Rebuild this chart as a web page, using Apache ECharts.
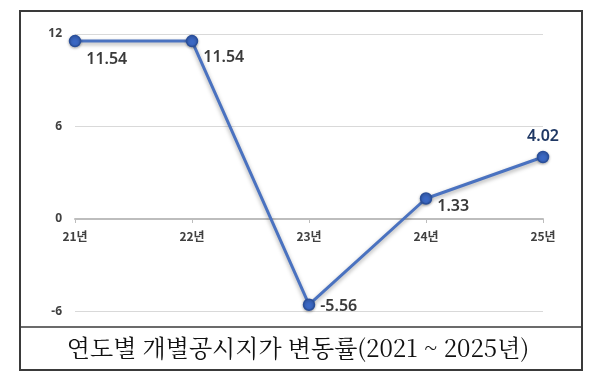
<!DOCTYPE html>
<html><head><meta charset="utf-8">
<script src="https://cdn.jsdelivr.net/npm/echarts@6/dist/echarts.min.js"></script>
<style>html,body{margin:0;padding:0;background:#fff}#c{width:600px;height:384px}</style>
</head><body><div id="c"></div>
<script>
var categories = ['21년', '22년', '23년', '24년', '25년'];
var values = [11.54, 11.54, -5.56, 1.33, 4.02];
var yTicks = [-6, 0, 6, 12];
var captionText = '연도별 개별공시지가 변동률(2021 ~ 2025년)';

var labelCfg = [
  {position: 'right', offset: [0, 18]},
  {position: 'right', offset: [0, 16]},
  {position: 'right', offset: [0, 2]},
  {position: 'right', offset: [0, 8]},
  {position: 'top', distance: 6, color: '#1f3864'}
];
var seriesData = values.map(function (v, i) {
  return {value: v, label: labelCfg[i]};
});

var chart = echarts.init(document.getElementById('c'), null, {renderer: 'canvas'});
chart.setOption({
  animation: false,
  grid: [
    {left: 75, right: 57, top: 34, bottom: 72.5, containLabel: false},
    {left: 75, right: 57, top: 34, bottom: 165, containLabel: false}
  ],
  xAxis: [{
    gridIndex: 0, type: 'category', data: categories, boundaryGap: false,
    axisLine: {show: false}, axisTick: {show: false}, axisLabel: {show: false}
  }, {
    gridIndex: 1, type: 'category', data: categories, boundaryGap: false, position: 'bottom',
    axisLine: {show: true, lineStyle: {color: '#bdbdbd', width: 2}},
    axisTick: {show: true, length: 4, lineStyle: {color: '#bdbdbd', width: 1}},
    axisLabel: {margin: 11, color: '#404040', fontSize: 12, fontWeight: 'bold', fontFamily: 'Noto Sans CJK KR'},
    z: 3
  }],
  yAxis: [{
    gridIndex: 0, type: 'value', min: yTicks[0], max: yTicks[yTicks.length - 1], interval: 6,
    axisLine: {show: false}, axisTick: {show: false},
    axisLabel: {margin: 13, color: '#404040', fontSize: 12, fontWeight: 'bold', fontFamily: 'Noto Sans'},
    splitLine: {lineStyle: {color: '#d9d9d9', width: 1}}
  }, {
    gridIndex: 1, type: 'value', show: false, min: 0, max: 12
  }],
  series: [{
    type: 'line', data: seriesData, xAxisIndex: 0, yAxisIndex: 0,
    symbol: 'circle', symbolSize: 11,
    lineStyle: {color: '#4a72c0', width: 3, shadowBlur: 4, shadowColor: 'rgba(0,0,0,0.35)', shadowOffsetY: 2},
    itemStyle: {color: '#3b68c4', borderColor: '#2a4f9a', borderWidth: 1.5, shadowBlur: 3, shadowColor: 'rgba(0,0,0,0.3)', shadowOffsetY: 1},
    label: {show: true, color: '#3a3a3a', fontSize: 16, fontWeight: 600, fontFamily: 'Noto Sans'},
    z: 5
  }],
  graphic: [
    {type: 'rect', shape: {x: 20, y: 11, width: 562, height: 359}, style: {fill: 'none', stroke: '#3a3a3a', lineWidth: 2}, silent: true},
    {type: 'line', shape: {x1: 20, y1: 327, x2: 582, y2: 327}, style: {stroke: '#3a3a3a', lineWidth: 1.5}, silent: true},
    {type: 'text', x: 298, y: 348, style: {text: captionText, x: 0, y: 0, align: 'center', verticalAlign: 'middle', fill: '#111', fontSize: 24, fontFamily: 'Noto Serif CJK KR, Noto Sans CJK KR'}, silent: true}
  ]
});
</script></body></html>
